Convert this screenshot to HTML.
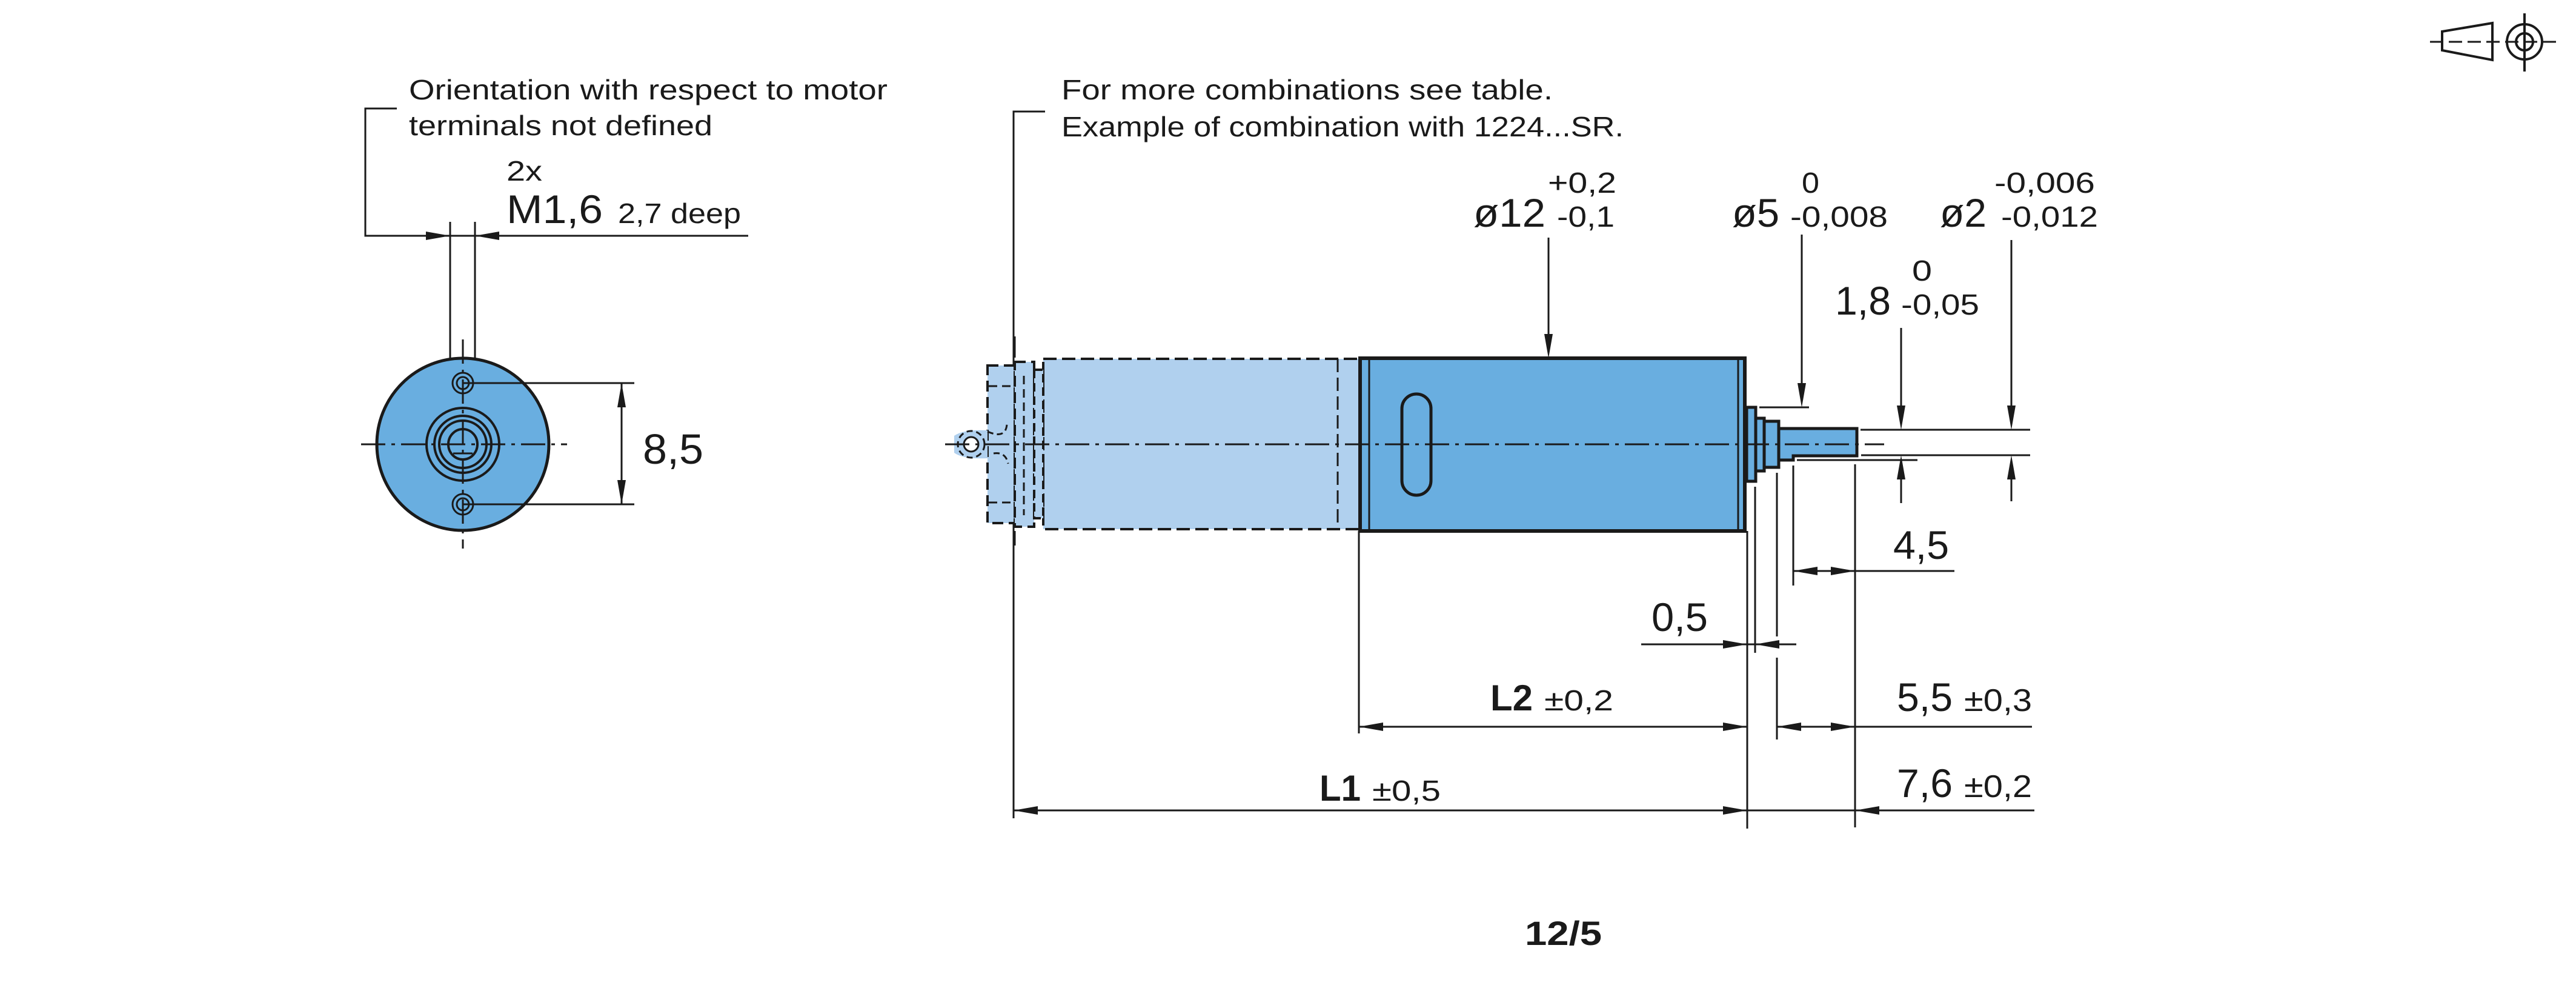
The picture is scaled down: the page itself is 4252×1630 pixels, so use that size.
<!DOCTYPE html>
<html><head><meta charset="utf-8"><style>
html,body{margin:0;padding:0;background:#fff;}
svg{display:block;}
text{font-family:"Liberation Sans",sans-serif;fill:#1a1a1a;}
</style></head><body>
<svg width="4252" height="1630" viewBox="0 0 4252 1630" xmlns="http://www.w3.org/2000/svg">
<g stroke="#1a1a1a" fill="none">
<!-- ===== Left end view ===== -->
<path d="M655,179 H603 V389 H1235" stroke-width="3"/>
<line x1="743" y1="366" x2="743" y2="615" stroke-width="3"/>
<line x1="784" y1="366" x2="784" y2="615" stroke-width="3"/>
<circle cx="764" cy="733" r="142" fill="#69aee0" stroke-width="5"/>
<circle cx="764" cy="733" r="60" stroke-width="4"/>
<circle cx="764" cy="733" r="47" stroke-width="4"/>
<circle cx="764" cy="733" r="39" stroke-width="4"/>
<ellipse cx="764" cy="733" rx="24" ry="25" stroke-width="4"/>
<line x1="748" y1="748" x2="780" y2="748" stroke-width="3"/>
<circle cx="764" cy="632" r="17" stroke-width="3"/>
<circle cx="764" cy="632" r="10" stroke-width="3"/>
<circle cx="764" cy="832" r="17" stroke-width="3"/>
<circle cx="764" cy="832" r="10" stroke-width="3"/>
<line x1="764" y1="632" x2="1047" y2="632" stroke-width="3"/>
<line x1="764" y1="832" x2="1047" y2="832" stroke-width="3"/>
<line x1="1026" y1="632" x2="1026" y2="832" stroke-width="3"/>
<line x1="596" y1="733" x2="936" y2="733" stroke-width="3" stroke-dasharray="40,10,6,10"/>
<line x1="764" y1="560" x2="764" y2="905" stroke-width="3" stroke-dasharray="40,10,6,10"/>

<!-- ===== Motor side view ===== -->
<!-- leader bracket -->
<path d="M1725,184 H1673 V1350" stroke-width="3"/>
<!-- light (optional) body -->
<rect x="1722" y="592" width="523" height="281" fill="#b0d0ee" stroke-width="4" stroke-dasharray="22,9"/>
<line x1="2208" y1="592" x2="2208" y2="873" stroke-width="3" stroke-dasharray="22,9"/>
<rect x="1630" y="603" width="45" height="260" fill="#b0d0ee" stroke-width="4" stroke-dasharray="18,9"/>
<rect x="1675" y="597" width="32" height="272" fill="#b0d0ee" stroke-width="4" stroke-dasharray="18,9"/>
<rect x="1707" y="610" width="15" height="245" fill="#b0d0ee" stroke-width="4" stroke-dasharray="14,8"/>
<line x1="1632" y1="637" x2="1673" y2="637" stroke-width="3" stroke-dasharray="14,8"/>
<line x1="1632" y1="829" x2="1673" y2="829" stroke-width="3" stroke-dasharray="14,8"/>
<line x1="1690" y1="620" x2="1690" y2="850" stroke-width="3" stroke-dasharray="14,8"/>
<path d="M1575,719 Q1590,708 1630,710 L1630,756 Q1590,758 1575,747 Z" fill="#b0d0ee" stroke="none"/>
<circle cx="1603" cy="733" r="22" fill="#b0d0ee" stroke-width="3" stroke-dasharray="10,6"/>
<circle cx="1603" cy="733" r="12" fill="#fff" stroke-width="3"/>
<path d="M1630,712 Q1660,725 1662,700" stroke-width="3" stroke-dasharray="10,6"/>
<path d="M1640,748 Q1660,745 1664,765" stroke-width="3" stroke-dasharray="10,6"/>
<!-- dark body -->
<rect x="2245" y="591" width="635" height="285" fill="#69aee0" stroke-width="6"/>
<line x1="2260" y1="593" x2="2260" y2="874" stroke-width="3"/>
<line x1="2869" y1="593" x2="2869" y2="874" stroke-width="3"/>
<rect x="2314" y="650" width="48" height="167" rx="24" stroke-width="5"/>
<!-- flange & shaft -->
<rect x="2883" y="672" width="15" height="122" fill="#69aee0" stroke-width="5"/>
<rect x="2898" y="690" width="14" height="87" fill="#69aee0" stroke-width="5"/>
<rect x="2912" y="695" width="24" height="76" fill="#69aee0" stroke-width="5"/>
<path d="M2936,707 H3065 V752 H2960 V759 H2936 Z" fill="#69aee0" stroke-width="5"/>
<!-- centerlines -->
<line x1="1560" y1="733" x2="3110" y2="733" stroke-width="3" stroke-dasharray="40,10,6,10"/>
<line x1="1675" y1="555" x2="1675" y2="590" stroke-width="3"/>
<line x1="1675" y1="876" x2="1675" y2="900" stroke-width="3"/>

<!-- top dims -->
<line x1="2556" y1="392" x2="2556" y2="560" stroke-width="3"/>
<line x1="2974" y1="387" x2="2974" y2="645" stroke-width="3"/>
<line x1="2904" y1="672" x2="2986" y2="672" stroke-width="3"/>
<line x1="3071" y1="709" x2="3351" y2="709" stroke-width="3"/>
<line x1="3072" y1="751" x2="3351" y2="751" stroke-width="3"/>
<line x1="2966" y1="759" x2="3165" y2="759" stroke-width="3"/>
<line x1="3138" y1="541" x2="3138" y2="680" stroke-width="3"/>
<line x1="3138" y1="780" x2="3138" y2="830" stroke-width="3"/>
<line x1="3320" y1="396" x2="3320" y2="680" stroke-width="3"/>
<line x1="3320" y1="780" x2="3320" y2="827" stroke-width="3"/>

<!-- lower extension lines -->
<line x1="2243" y1="876" x2="2243" y2="1210" stroke-width="3"/>
<line x1="2884" y1="876" x2="2884" y2="1367" stroke-width="3"/>
<line x1="2897" y1="803" x2="2897" y2="1077" stroke-width="3"/>
<line x1="2933" y1="780" x2="2933" y2="1050" stroke-width="3"/>
<line x1="2933" y1="1085" x2="2933" y2="1220" stroke-width="3"/>
<line x1="2960" y1="768" x2="2960" y2="966" stroke-width="3"/>
<line x1="3062" y1="766" x2="3062" y2="1365" stroke-width="3"/>
<!-- lower dim lines -->
<line x1="2960" y1="942" x2="3226" y2="942" stroke-width="3"/>
<line x1="2709" y1="1063" x2="2965" y2="1063" stroke-width="3"/>
<line x1="2243" y1="1199" x2="2884" y2="1199" stroke-width="3"/>
<line x1="2933" y1="1199" x2="3354" y2="1199" stroke-width="3"/>
<line x1="1673" y1="1337" x2="2884" y2="1337" stroke-width="3"/>
<line x1="2884" y1="1337" x2="3358" y2="1337" stroke-width="3"/>

<!-- top-right projection symbol -->
<polygon points="4031,52 4114,38 4114,99 4031,83" stroke-width="4"/>
<line x1="4011" y1="69" x2="4219" y2="69" stroke-width="3" stroke-dasharray="22,9"/>
<circle cx="4167" cy="69" r="29" stroke-width="4"/>
<circle cx="4167" cy="69" r="14" stroke-width="4"/>
<line x1="4167" y1="22" x2="4167" y2="118" stroke-width="4"/>
</g>

<!-- arrowheads -->
<g fill="#1a1a1a">
<!-- left view -->
<polygon points="743,389 703,382 703,396"/>
<polygon points="784,389 824,382 824,396"/>
<polygon points="1026,632 1019,672 1033,672"/>
<polygon points="1026,832 1019,792 1033,792"/>
<!-- top -->
<polygon points="2556,591 2549,551 2563,551"/>
<polygon points="2974,672 2967,632 2981,632"/>
<polygon points="3138,709 3131,669 3145,669"/>
<polygon points="3138,751 3131,791 3145,791"/>
<polygon points="3320,709 3313,669 3327,669"/>
<polygon points="3320,751 3313,791 3327,791"/>
<!-- lower -->
<polygon points="2960,942 3000,935 3000,949"/>
<polygon points="3062,942 3022,935 3022,949"/>
<polygon points="2884,1063 2844,1056 2844,1070"/>
<polygon points="2897,1063 2937,1056 2937,1070"/>
<polygon points="2243,1199 2283,1192 2283,1206"/>
<polygon points="2884,1199 2844,1192 2844,1206"/>
<polygon points="2933,1199 2973,1192 2973,1206"/>
<polygon points="3062,1199 3022,1192 3022,1206"/>
<polygon points="1673,1337 1713,1330 1713,1344"/>
<polygon points="2884,1337 2844,1330 2844,1344"/>
<polygon points="3062,1337 3102,1330 3102,1344"/>
</g>

<!-- text -->
<text x="675" y="164" font-size="46" textLength="790" lengthAdjust="spacingAndGlyphs">Orientation with respect to motor</text>
<text x="675" y="223" font-size="46" textLength="501" lengthAdjust="spacingAndGlyphs">terminals not defined</text>
<text x="836" y="298" font-size="46" textLength="59" lengthAdjust="spacingAndGlyphs">2x</text>
<text x="836" y="368" font-size="66" textLength="159" lengthAdjust="spacingAndGlyphs">M1,6</text>
<text x="1020" y="368" font-size="46" textLength="203" lengthAdjust="spacingAndGlyphs">2,7 deep</text>
<text x="1061" y="765" font-size="70" textLength="100" lengthAdjust="spacingAndGlyphs">8,5</text>

<text x="1752" y="164" font-size="46" textLength="811" lengthAdjust="spacingAndGlyphs">For more combinations see table.</text>
<text x="1752" y="225" font-size="46" textLength="928" lengthAdjust="spacingAndGlyphs">Example of combination with 1224...SR.</text>

<text x="2432" y="374" font-size="66" textLength="119" lengthAdjust="spacingAndGlyphs">ø12</text>
<text x="2555" y="318" font-size="48" textLength="113" lengthAdjust="spacingAndGlyphs">+0,2</text>
<text x="2570" y="374" font-size="48" textLength="95" lengthAdjust="spacingAndGlyphs">-0,1</text>
<text x="2859" y="374" font-size="66" textLength="78" lengthAdjust="spacingAndGlyphs">ø5</text>
<text x="2974" y="318" font-size="48" textLength="29" lengthAdjust="spacingAndGlyphs">0</text>
<text x="2955" y="374" font-size="48" textLength="161" lengthAdjust="spacingAndGlyphs">-0,008</text>
<text x="3202" y="374" font-size="66" textLength="77" lengthAdjust="spacingAndGlyphs">ø2</text>
<text x="3292" y="318" font-size="48" textLength="166" lengthAdjust="spacingAndGlyphs">-0,006</text>
<text x="3303" y="374" font-size="48" textLength="160" lengthAdjust="spacingAndGlyphs">-0,012</text>
<text x="3029" y="519" font-size="66" textLength="92" lengthAdjust="spacingAndGlyphs">1,8</text>
<text x="3156" y="463" font-size="48" textLength="33" lengthAdjust="spacingAndGlyphs">0</text>
<text x="3138" y="519" font-size="48" textLength="129" lengthAdjust="spacingAndGlyphs">-0,05</text>

<text x="3125" y="922" font-size="66" textLength="92" lengthAdjust="spacingAndGlyphs">4,5</text>
<text x="2726" y="1041" font-size="66" textLength="93" lengthAdjust="spacingAndGlyphs">0,5</text>
<text x="2460" y="1172" font-size="60" font-weight="bold" textLength="70" lengthAdjust="spacingAndGlyphs">L2</text>
<text x="2549" y="1172" font-size="48" textLength="114" lengthAdjust="spacingAndGlyphs">±0,2</text>
<text x="3131" y="1173" font-size="66" textLength="92" lengthAdjust="spacingAndGlyphs">5,5</text>
<text x="3242" y="1173" font-size="52" textLength="112" lengthAdjust="spacingAndGlyphs">±0,3</text>
<text x="2178" y="1321" font-size="60" font-weight="bold" textLength="68" lengthAdjust="spacingAndGlyphs">L1</text>
<text x="2265" y="1321" font-size="48" textLength="113" lengthAdjust="spacingAndGlyphs">±0,5</text>
<text x="3131" y="1315" font-size="66" textLength="92" lengthAdjust="spacingAndGlyphs">7,6</text>
<text x="3242" y="1315" font-size="52" textLength="112" lengthAdjust="spacingAndGlyphs">±0,2</text>

<text x="2517" y="1559" font-size="56" font-weight="bold" textLength="127" lengthAdjust="spacingAndGlyphs">12/5</text>
</svg>
</body></html>
